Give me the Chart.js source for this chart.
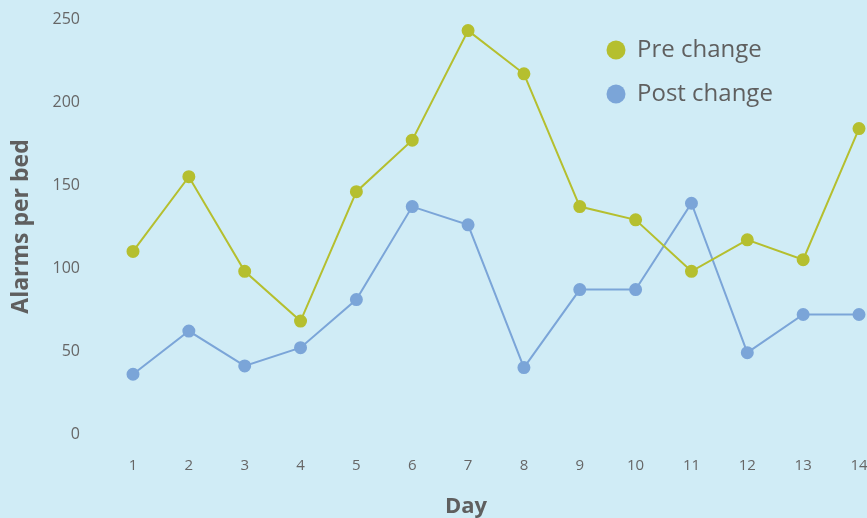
<!DOCTYPE html>
<html><head><meta charset="utf-8">
<script src="https://cdn.jsdelivr.net/npm/chart.js@4/dist/chart.umd.min.js"></script>
<style>html,body{margin:0;padding:0;background:#D0ECF6;}#wrap{width:867px;height:518px;}</style>
</head><body><div id="wrap"><canvas id="c" width="867" height="518"></canvas></div>
<script>
const days = ['1','2','3','4','5','6','7','8','9','10','11','12','13','14'];
const preChange = [110,155,98,68,146,177,243,217,137,129,98,117,105,184];
const postChange = [36,62,41,52,81,137,126,40,87,87,139,49,72,72];
const yTicks = [0,50,100,150,200,250];
const seriesNames = ['Pre change','Post change'];
const yTitle = 'Alarms per bed';
const xTitle = 'Day';

const PRE = '#B5BF2F', POST = '#7BA5D8', TXT = '#5f5f5f';
const FONT = '"Open Sans", sans-serif';

const extras = {
  id:'extras',
  afterDraw(chart){
    const ctx = chart.ctx, ca = chart.chartArea;
    ctx.save();
    ctx.fillStyle = TXT;
    ctx.font = 'bold 23px ' + FONT;
    ctx.textAlign = 'center'; ctx.textBaseline = 'middle';
    ctx.translate(21, (ca.top+ca.bottom)/2);
    ctx.rotate(-Math.PI/2);
    ctx.fillText(yTitle, 0, 0);
    ctx.restore();
    ctx.save();
    ctx.fillStyle = TXT;
    ctx.font = 'bold 22px ' + FONT;
    ctx.textAlign = 'center'; ctx.textBaseline = 'middle';
    ctx.fillText(xTitle, 466, 507);
    const cols = [PRE, POST];
    seriesNames.forEach((n,i)=>{
      const y = 50 + i*44;
      ctx.beginPath(); ctx.fillStyle = cols[i];
      ctx.arc(616, y, 9.5, 0, Math.PI*2); ctx.fill();
      ctx.fillStyle = TXT; ctx.font = '24px ' + FONT;
      ctx.textAlign = 'left'; ctx.textBaseline = 'middle';
      ctx.fillText(n, 637, y);
    });
    ctx.restore();
  }
};

new Chart(document.getElementById('c'), {
  type:'line',
  data:{ labels: days, datasets:[
    {label:seriesNames[0], data:preChange, borderColor:PRE, backgroundColor:PRE, borderWidth:2, pointRadius:5.5, pointHoverRadius:5.5, tension:0},
    {label:seriesNames[1], data:postChange, borderColor:POST, backgroundColor:POST, borderWidth:2, pointRadius:5.5, pointHoverRadius:5.5, tension:0}
  ]},
  options:{
    responsive:false, animation:false, devicePixelRatio:1,
    layout:{padding:{top:19,right:8,left:0,bottom:0}},
    plugins:{legend:{display:false}, tooltip:{enabled:false}},
    scales:{
      x:{ offset:false,
        grid:{display:false, drawTicks:false}, border:{display:false},
        ticks:{color:'#666', font:{family:FONT, size:15}, padding:23, maxRotation:0, autoSkip:false},
        afterFit(s){ s.height = 84; s.paddingLeft = 0; s.paddingRight = 0; }
      },
      y:{ min:0, max:250,
        grid:{display:false, drawTicks:false}, border:{display:false},
        afterBuildTicks(s){ s.ticks = yTicks.map(v=>({value:v})); },
        ticks:{color:'#666', font:{family:FONT, size:16}, padding:53},
        afterFit(s){ s.width = 133; s.paddingTop = 0; s.paddingBottom = 0; }
      }
    }
  },
  plugins:[extras]
});
</script></body></html>
